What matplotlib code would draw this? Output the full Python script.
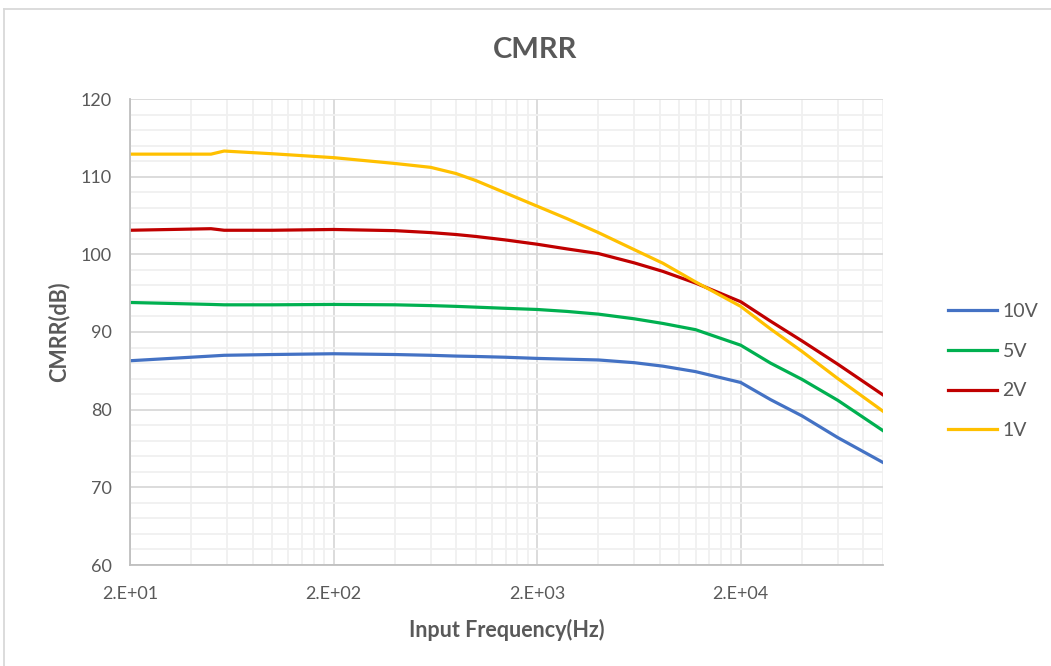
import matplotlib
matplotlib.use("Agg")
import matplotlib.pyplot as plt
from matplotlib.lines import Line2D

plt.rcParams['font.family'] = ['Lato', 'DejaVu Sans']

# data
freq = [20, 50, 58, 100, 200, 400, 600, 800, 1000, 1400, 2000, 2800, 4000,
        6000, 8300, 12000, 20000, 28000, 40000, 60000, 100000]
cmrr_10v = [86.3, 86.9, 87.0, 87.1, 87.2, 87.1, 87.0, 86.9, 86.85, 86.75, 86.6, 86.5, 86.4,
            86.05, 85.6, 84.9, 83.5, 81.3, 79.2, 76.4, 73.2]
cmrr_5v = [93.8, 93.55, 93.5, 93.5, 93.55, 93.5, 93.4, 93.3, 93.2, 93.05, 92.9, 92.65, 92.3,
           91.7, 91.1, 90.3, 88.3, 86.0, 83.9, 81.2, 77.3]
cmrr_2v = [103.1, 103.3, 103.1, 103.1, 103.2, 103.05, 102.8, 102.55, 102.3, 101.85, 101.3, 100.7, 100.1,
           98.9, 97.8, 96.3, 93.9, 91.4, 88.85, 85.85, 81.9]
cmrr_1v = [112.9, 112.9, 113.3, 112.95, 112.45, 111.7, 111.2, 110.4, 109.5, 107.9, 106.2, 104.6, 102.8,
           100.6, 98.85, 96.45, 93.3, 90.4, 87.5, 84.0, 79.8]

labels = ['10V', '5V', '2V', '1V']
colors = ['#4472C4', '#00B050', '#C00000', '#FFC000']

xticks = [20, 200, 2000, 20000]
xticklabels = ['2.E+01', '2.E+02', '2.E+03', '2.E+04']

txt = '#595959'

fig = plt.figure(figsize=(10.51, 6.66), dpi=100)
ax = fig.add_axes([130/1051, 1-565/666, 753/1051, 466/666])

for y, lab, c in zip([cmrr_10v, cmrr_5v, cmrr_2v, cmrr_1v], labels, colors):
    ax.plot(freq, y, color=c, lw=2.3, label=lab, solid_joinstyle='round')

ax.set_xscale('log')
ax.set_xlim(20, 100000)
ax.set_ylim(60, 120)

minors = [2*m*10**k for k in range(1, 5) for m in range(2, 10) if 2*m*10**k <= 100000]
ax.set_xticks(xticks)
ax.set_xticklabels(xticklabels)
ax.set_xticks(minors, minor=True)
ax.xaxis.set_minor_formatter(plt.NullFormatter())
ax.set_yticks(range(60, 121, 10))
ax.set_yticks(range(60, 121, 2), minor=True)

ax.grid(which='minor', color='#F0F0F0', lw=1.3, zorder=0)
ax.grid(which='major', color='#D9D9D9', lw=1.3, zorder=0)
ax.set_axisbelow(True)

ax.tick_params(which='both', length=0, colors=txt, labelsize=13)
ax.tick_params(axis='x', pad=15)
ax.tick_params(axis='y', pad=13)

for s in ['top', 'right']:
    ax.spines[s].set_visible(False)
for s in ['left', 'bottom']:
    ax.spines[s].set_color('#BFBFBF')
    ax.spines[s].set_linewidth(1.3)

fig.text(535/1051, 1-50/666, 'CMRR', fontsize=21, fontweight='bold', color=txt,
         ha='center', va='center')
ax.set_xlabel('Input Frequency(Hz)', fontsize=15.5, fontweight='bold', color=txt, labelpad=12)
ax.set_ylabel('CMRR(dB)', fontsize=15.5, fontweight='bold', color=txt, labelpad=8)

leg = fig.legend(loc='center left', bbox_to_anchor=(948/1051, 1-371/666), frameon=False,
                 fontsize=14, handlelength=2.5, handletextpad=0.3, labelspacing=1.175,
                 borderpad=0, borderaxespad=0)
for t in leg.get_texts():
    t.set_color(txt)

# outer chart frame (top and left edges visible in the crop)
fig.add_artist(Line2D([4/1051, 1], [1-9/666, 1-9/666], color='#D9D9D9', lw=1.3))
fig.add_artist(Line2D([4/1051, 4/1051], [0, 1-9/666], color='#D9D9D9', lw=1.3))

fig.savefig('out.png', dpi=100)
